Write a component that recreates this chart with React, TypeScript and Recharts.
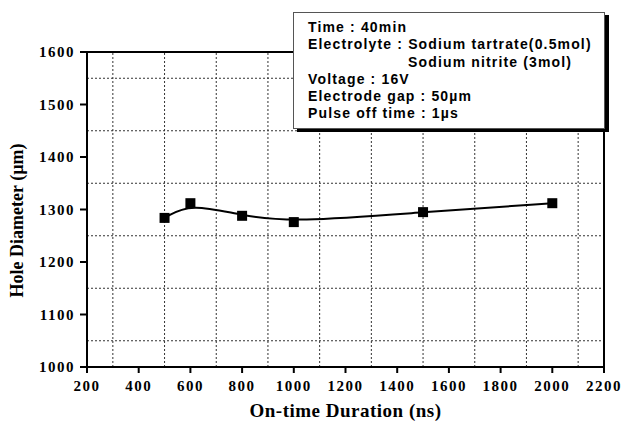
import React from 'react'
import {
  LineChart, Line, XAxis, YAxis, ReferenceLine,
} from 'recharts'

const onTime = [500, 600, 800, 1000, 1500, 2000]
const holeDiameter = [1284, 1312, 1288, 1276, 1295, 1312]

const xTicks = [200, 400, 600, 800, 1000, 1200, 1400, 1600, 1800, 2000, 2200]
const yTicks = [1000, 1100, 1200, 1300, 1400, 1500, 1600]
const xGrid = [300, 500, 700, 900, 1100, 1300, 1500, 1700, 1900, 2100]
const yGrid = [1050, 1150, 1250, 1350, 1450, 1550]
const topTicks = [400, 600, 800, 1000, 1200, 1400, 1600, 1800, 2000]
const rightTicks = [1100, 1200, 1300, 1400, 1500]

const noteLines = [
  'Time : 40min',
  'Electrolyte : Sodium tartrate(0.5mol)',
  'Sodium nitrite (3mol)',
  'Voltage : 16V',
  'Electrode gap : 50\u00b5m',
  'Pulse off time : 1\u00b5s',
]

const data = onTime.map((t, i) => ({ t, d: holeDiameter[i] }))

const serif = "'Liberation Serif', 'Times New Roman', serif"
const tickStyle = { fontFamily: serif, fontWeight: 700, fontSize: 15, fill: '#000', letterSpacing: 1.5 }

const Square = (props: any) => {
  const { cx, cy, index } = props
  return <rect key={`sq-${index}`} x={cx - 5} y={cy - 5} width={10} height={10} fill="#000" />
}

const YLabel = (props: any) => {
  const vb = props.viewBox
  const x = 17
  const y = vb.y + vb.height / 2 + 11
  return (
    <text
      x={x} y={y} transform={`rotate(-90 ${x} ${y})`}
      textAnchor="middle" dominantBaseline="central"
      style={{ fontFamily: serif, fontWeight: 700, fontSize: 18, fill: '#000' }}
    >
      Hole Diameter (µm)
    </text>
  )
}

const NoLabel = () => <g />

export default function App() {
  return (
    <div style={{ position: 'absolute', left: 0, top: 0, width: 625, height: 421, background: '#fff' }}>
      <LineChart width={625} height={421} data={data} margin={{ top: 51, right: 20, left: 0, bottom: 0 }}>
        {xGrid.map(v => (
          <ReferenceLine key={`gx${v}`} x={v} stroke="#333" strokeDasharray="2 2" strokeWidth={1} />
        ))}
        {yGrid.map(v => (
          <ReferenceLine key={`gy${v}`} y={v} stroke="#333" strokeDasharray="2 2" strokeWidth={1} />
        ))}
        <XAxis
          dataKey="t" type="number" domain={[200, 2200]} ticks={xTicks}
          height={54} tickSize={6} tickMargin={7}
          axisLine={{ stroke: '#000', strokeWidth: 2 }}
          tickLine={{ stroke: '#000', strokeWidth: 2 }}
          tick={tickStyle}
          label={{
            value: 'On-time Duration (ns)', position: 'insideBottom', offset: 4,
            style: { fontFamily: serif, fontWeight: 700, fontSize: 19, fill: '#000', letterSpacing: 0.5 },
          }}
        />
        <XAxis
          xAxisId="top" orientation="top" type="number" domain={[200, 2200]} ticks={topTicks}
          height={1} tickSize={-6} tick={<NoLabel />} interval={0}
          axisLine={{ stroke: '#000', strokeWidth: 2 }}
          tickLine={{ stroke: '#000', strokeWidth: 2 }}
        />
        <YAxis
          type="number" domain={[1000, 1600]} ticks={yTicks}
          width={87} tickSize={7} tickMargin={5}
          axisLine={{ stroke: '#000', strokeWidth: 2 }}
          tickLine={{ stroke: '#000', strokeWidth: 2 }}
          tick={tickStyle}
          label={<YLabel />}
        />
        <YAxis
          yAxisId="right" orientation="right" type="number" domain={[1000, 1600]} ticks={rightTicks}
          width={1} tickSize={-6} tick={<NoLabel />} interval={0}
          axisLine={{ stroke: '#000', strokeWidth: 2 }}
          tickLine={{ stroke: '#000', strokeWidth: 2 }}
        />
        <Line
          dataKey="d" type="basis" stroke="#000" strokeWidth={2}
          dot={<Square />} activeDot={false} isAnimationActive={false}
        />
      </LineChart>
      <div
        style={{
          position: 'absolute', left: 293, top: 12, width: 296, height: 109,
          background: '#fff', border: '1px solid #555', boxShadow: '4px 3px 0 #000',
          padding: '6px 0 0 14px',
          fontFamily: "'Liberation Sans', Arial, sans-serif", fontWeight: 700, fontSize: 14,
          lineHeight: '17.3px', letterSpacing: 1.15, color: '#000',
        }}
      >
        {noteLines.map((s, i) => (
          <div key={i} style={{ paddingLeft: i === 2 ? 100 : 0, whiteSpace: 'nowrap' }}>{s}</div>
        ))}
      </div>
    </div>
  )
}
